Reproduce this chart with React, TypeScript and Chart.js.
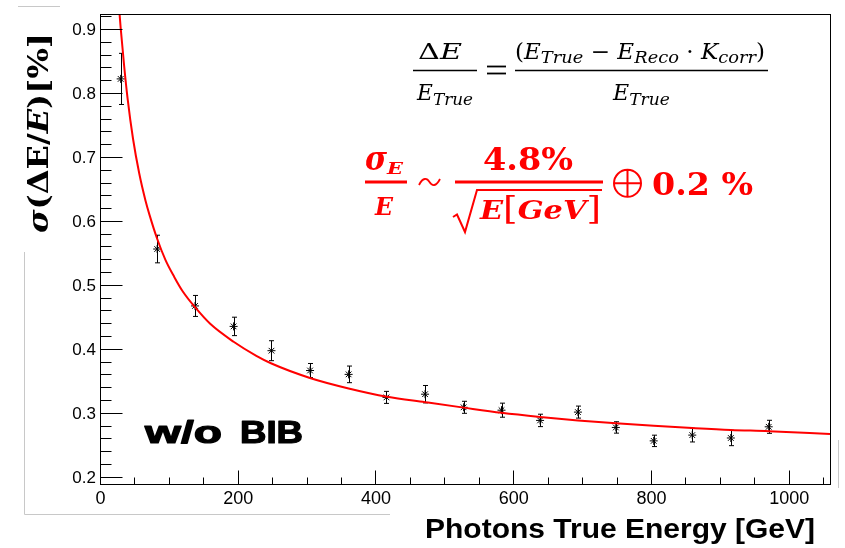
import { useEffect, useRef } from 'react';
import { Chart, registerables } from 'chart.js';

Chart.register(...registerables);

// Measured photon energy resolution (points with statistical errors)
const energies = [30, 83, 138, 194, 249, 305, 361, 416, 472, 528, 583, 639, 694, 749, 804, 860, 916, 971];
const resolution = [0.822, 0.556, 0.467, 0.435, 0.397, 0.366, 0.360, 0.324, 0.329, 0.3085, 0.304, 0.288, 0.301, 0.277, 0.256, 0.265, 0.2605, 0.278];
const resolutionErr = [0.040, 0.0216, 0.0164, 0.0144, 0.0156, 0.011, 0.013, 0.0094, 0.0136, 0.0094, 0.011, 0.0097, 0.0094, 0.0089, 0.0089, 0.0107, 0.012, 0.0102];

// Fitted resolution curve
const fitEnergies = [25, 30, 35, 40, 48, 57, 66, 72, 83, 95, 108, 120, 138, 160, 194, 227, 249, 306, 361, 417, 472, 528, 583, 639, 694, 749, 804, 860, 916, 971, 1060];
const fitValues = [0.97, 0.902, 0.843, 0.792, 0.728, 0.674, 0.632, 0.609, 0.572, 0.539, 0.512, 0.49, 0.465, 0.439, 0.411, 0.389, 0.377, 0.354, 0.338, 0.325, 0.3165, 0.308, 0.3, 0.2935, 0.288, 0.2835, 0.2795, 0.276, 0.273, 0.2712, 0.2668];

// Axis ticks
const yTickValues = [0.2, 0.3, 0.4, 0.5, 0.6, 0.7, 0.8, 0.9];
const yTickLabels = ['0.2', '0.3', '0.4', '0.5', '0.6', '0.7', '0.8', '0.9'];
const xTickValues = [0, 200, 400, 600, 800, 1000];
const xTickLabels = ['0', '200', '400', '600', '800', '1000'];

const SERIF = '"DejaVu Serif", serif';
const SANS = '"Liberation Sans", Arial, Helvetica, sans-serif';
const RED = '#ff0000';

type Run = { t: string; f: string; dy?: number };

function drawRuns(ctx: CanvasRenderingContext2D, runs: Run[], x: number, y: number, width?: number, stroke = 0) {
  let total = 0;
  const ws = runs.map((r) => {
    ctx.font = r.f;
    const w = ctx.measureText(r.t).width;
    total += w;
    return w;
  });
  const s = width ? width / total : 1;
  ctx.save();
  ctx.textAlign = 'left';
  ctx.textBaseline = 'alphabetic';
  ctx.translate(x, y);
  ctx.scale(s, 1);
  let cx = 0;
  runs.forEach((r, i) => {
    ctx.font = r.f;
    ctx.fillText(r.t, cx, r.dy || 0);
    if (stroke > 0) {
      ctx.lineWidth = stroke;
      ctx.lineJoin = 'round';
      ctx.strokeText(r.t, cx, r.dy || 0);
    }
    cx += ws[i];
  });
  ctx.restore();
}

function seg(ctx: CanvasRenderingContext2D, x1: number, y1: number, x2: number, y2: number, w = 1) {
  ctx.lineWidth = w;
  ctx.beginPath();
  ctx.moveTo(x1, y1);
  ctx.lineTo(x2, y2);
  ctx.stroke();
}

const decorPlugin = {
  id: 'decor',
  beforeDatasetsDraw(chart: any) {
    const { ctx, scales } = chart;
    const xs = scales.x;
    const ys = scales.y;
    ctx.save();
    ctx.strokeStyle = '#000';
    ctx.lineWidth = 1;
    energies.forEach((e, i) => {
      const px = Math.round(xs.getPixelForValue(e)) + 0.5;
      const top = ys.getPixelForValue(resolution[i] + resolutionErr[i]);
      const bot = ys.getPixelForValue(resolution[i] - resolutionErr[i]);
      ctx.beginPath();
      ctx.moveTo(px, top);
      ctx.lineTo(px, bot);
      ctx.moveTo(px - 2.5, top);
      ctx.lineTo(px + 2.5, top);
      ctx.moveTo(px - 2.5, bot);
      ctx.lineTo(px + 2.5, bot);
      ctx.stroke();
    });
    ctx.restore();
  },
  afterDraw(chart: any) {
    const { ctx, scales, chartArea } = chart;
    const xs = scales.x;
    const ys = scales.y;
    const L = chartArea.left + 0.5;
    const R = chartArea.right + 0.5;
    const T = chartArea.top + 0.5;
    const B = chartArea.bottom - 0.5;
    ctx.save();

    // slide frame remnants
    ctx.strokeStyle = '#c8c8c8';
    seg(ctx, 18, 6.5, 60, 6.5);
    seg(ctx, 24.5, 252, 24.5, 514.5);
    seg(ctx, 24.5, 514.5, 390, 514.5);
    seg(ctx, 838.5, 440, 838.5, 488);

    // plot frame
    ctx.strokeStyle = '#000';
    ctx.lineWidth = 1;
    ctx.strokeRect(L, T, R - L, B - T);

    // y ticks (inward)
    for (let k = 0; k <= 36; k++) {
      const v = 0.2 + k * 0.02;
      if (v > ys.max) break;
      const py = Math.round(ys.getPixelForValue(v)) + 0.5;
      const len = k % 5 === 0 ? 22 : 11;
      seg(ctx, L, py, L + len, py);
    }
    // x ticks (inward)
    for (let k = 0; k <= 21; k++) {
      const v = k * 50;
      if (v > xs.max) break;
      const px = Math.round(xs.getPixelForValue(v)) + 0.5;
      const len = k % 4 === 0 ? 14 : 7;
      seg(ctx, px, B, px, B - len);
    }

    // tick labels
    ctx.fillStyle = '#000';
    ctx.font = `17px ${SANS}`;
    ctx.textAlign = 'right';
    ctx.textBaseline = 'middle';
    yTickValues.forEach((v, i) => ctx.fillText(yTickLabels[i], 96, ys.getPixelForValue(v) + 1.5));
    ctx.font = `18px ${SANS}`;
    ctx.textAlign = 'center';
    ctx.textBaseline = 'alphabetic';
    xTickValues.forEach((v, i) => ctx.fillText(xTickLabels[i], xs.getPixelForValue(v) + 0.5, 504));

    // x axis title
    drawRuns(ctx, [{ t: 'Photons True Energy [GeV]', f: `bold 28px ${SANS}` }], 425, 538, 390);

    // y axis title
    ctx.save();
    ctx.translate(48, 233);
    ctx.rotate(-Math.PI / 2);
    const yb = `bold 28px ${SERIF}`;
    const ybi = `italic bold 28px ${SERIF}`;
    drawRuns(ctx, [
      { t: 'σ', f: ybi },
      { t: '(', f: yb },
      { t: 'ΔE', f: yb },
      { t: '/', f: yb },
      { t: 'E', f: ybi },
      { t: ')', f: yb },
      { t: '[%]', f: yb },
    ], 0, 0, 200);
    ctx.restore();

    // w/o BIB
    ctx.strokeStyle = '#000';
    drawRuns(ctx, [{ t: 'w/o', f: `bold 31px ${SANS}` }], 145, 443, 77, 1.2);
    drawRuns(ctx, [{ t: 'BIB', f: `bold 31px ${SANS}` }], 240, 443, 63, 1.2);

    // definition of ΔE / E_True
    const n22 = `22px ${SERIF}`;
    const i22 = `italic 22px ${SERIF}`;
    const i17 = `italic 17px ${SERIF}`;
    drawRuns(ctx, [{ t: 'Δ', f: n22 }, { t: 'E', f: i22 }], 418, 58.5, 44);
    seg(ctx, 413, 70.5, 477, 70.5, 1.5);
    drawRuns(ctx, [{ t: 'E', f: i22 }, { t: 'True', f: i17, dy: 5 }], 417, 100, 56);
    seg(ctx, 487, 66.5, 506, 66.5, 1.8);
    seg(ctx, 487, 73.5, 506, 73.5, 1.8);
    drawRuns(ctx, [
      { t: '(', f: n22 },
      { t: 'E', f: i22 },
      { t: 'True', f: i17, dy: 4 },
      { t: ' − ', f: n22 },
      { t: 'E', f: i22 },
      { t: 'Reco', f: i17, dy: 4 },
      { t: ' · ', f: n22 },
      { t: 'K', f: i22 },
      { t: 'corr', f: i17, dy: 4 },
      { t: ')', f: n22 },
    ], 515, 58.5, 250);
    seg(ctx, 515, 70.5, 768, 70.5, 1.5);
    drawRuns(ctx, [{ t: 'E', f: i22 }, { t: 'True', f: i17, dy: 5 }], 613, 100, 57);

    // resolution parametrisation
    ctx.fillStyle = RED;
    ctx.strokeStyle = RED;
    drawRuns(ctx, [{ t: 'σ', f: `italic bold 34px ${SERIF}` }], 365, 170, 22);
    drawRuns(ctx, [{ t: 'E', f: `italic bold 16px ${SERIF}` }], 387, 173.5, 16);
    seg(ctx, 365, 182, 407, 182, 3);
    drawRuns(ctx, [{ t: 'E', f: `italic bold 25px ${SERIF}` }], 375, 215, 18);
    // tilde
    ctx.lineWidth = 1.8;
    ctx.beginPath();
    ctx.moveTo(419, 185);
    ctx.bezierCurveTo(423, 177, 427, 178, 429.5, 182);
    ctx.bezierCurveTo(432, 186, 436, 187, 440, 179);
    ctx.stroke();
    drawRuns(ctx, [{ t: '4.8%', f: `bold 32px ${SERIF}` }], 483, 170, 90);
    seg(ctx, 455, 182, 603, 182, 3);
    // radical sign
    ctx.lineWidth = 2;
    ctx.beginPath();
    ctx.moveTo(453, 217);
    ctx.lineTo(457, 214.5);
    ctx.lineTo(465, 232);
    ctx.lineTo(477, 190);
    ctx.lineTo(602, 190);
    ctx.stroke();
    const bi26 = `italic bold 26px ${SERIF}`;
    const n32 = `32px ${SERIF}`;
    drawRuns(ctx, [
      { t: 'E', f: bi26 },
      { t: '[', f: n32 },
      { t: 'GeV', f: bi26 },
      { t: ']', f: n32 },
    ], 480, 219, 121);
    // circled plus
    ctx.lineWidth = 2;
    ctx.beginPath();
    ctx.arc(627.5, 183.3, 13.5, 0, Math.PI * 2);
    ctx.moveTo(614, 183.3);
    ctx.lineTo(641, 183.3);
    ctx.moveTo(627.5, 169.8);
    ctx.lineTo(627.5, 196.8);
    ctx.stroke();
    drawRuns(ctx, [{ t: '0.2 %', f: `bold 32px ${SERIF}` }], 652, 195, 101);

    ctx.restore();
  },
};

export default function App() {
  const canvasRef = useRef<HTMLCanvasElement | null>(null);

  useEffect(() => {
    const canvas = canvasRef.current;
    if (!canvas) return;
    const chart = new Chart(canvas, {
      type: 'scatter',
      data: {
        datasets: [
          {
            label: 'fit',
            data: fitEnergies.map((e, i) => ({ x: e, y: fitValues[i] })),
            showLine: true,
            borderColor: RED,
            borderWidth: 2,
            pointRadius: 0,
            cubicInterpolationMode: 'monotone',
            clip: 0,
            order: 0,
          },
          {
            label: 'data',
            data: energies.map((e, i) => ({ x: e, y: resolution[i] })),
            showLine: false,
            pointStyle: 'star',
            pointRadius: 4,
            borderColor: '#000',
            backgroundColor: '#000',
            borderWidth: 1,
            order: 1,
          },
        ],
      },
      options: {
        animation: false,
        responsive: false,
        devicePixelRatio: 1,
        events: [],
        layout: { padding: { left: 100, top: 14, right: 15, bottom: 63 } },
        scales: {
          x: { type: 'linear', min: 0, max: 1060, display: false },
          y: { type: 'linear', min: 0.187, max: 0.9235, display: false },
        },
        plugins: {
          legend: { display: false },
          tooltip: { enabled: false },
        },
      } as any,
      plugins: [decorPlugin],
    });
    return () => chart.destroy();
  }, []);

  return (
    <div style={{ position: 'fixed', left: 0, top: 0, width: 845, height: 548, background: '#fff' }}>
      <canvas ref={canvasRef} width={845} height={548} style={{ width: 845, height: 548 }} />
    </div>
  );
}
